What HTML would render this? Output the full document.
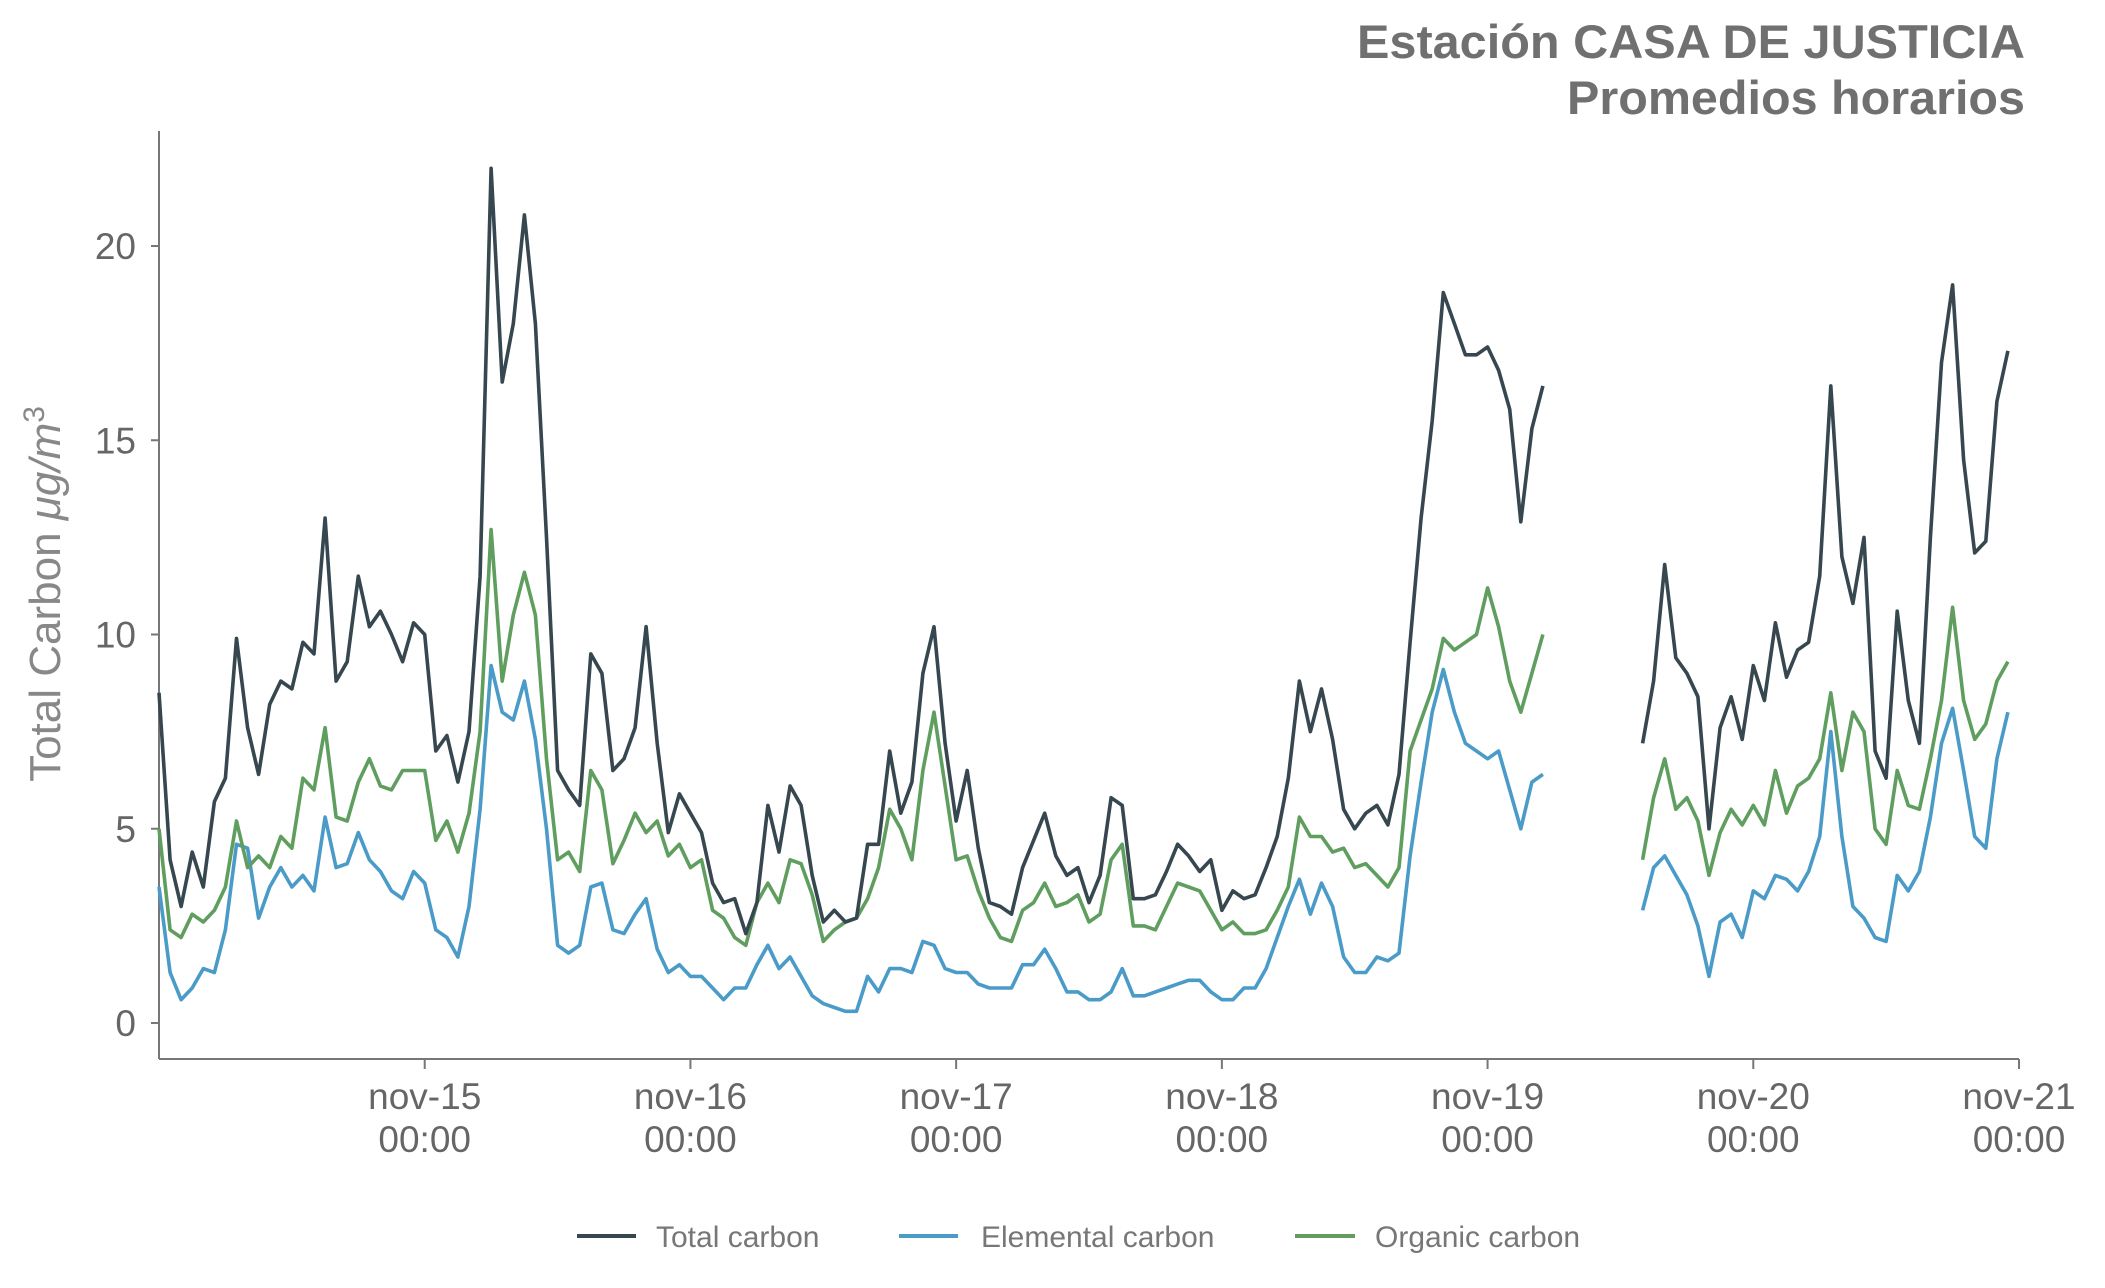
<!DOCTYPE html>
<html><head><meta charset="utf-8"><style>
html,body{margin:0;padding:0;background:#fff}
svg{display:block}
text{font-family:"Liberation Sans",sans-serif}
</style></head><body>
<svg id="chart" width="2105" height="1288" viewBox="0 0 2105 1288">
<text x="2025" y="58" text-anchor="end" font-size="47" font-weight="bold" fill="#707070" textLength="668" lengthAdjust="spacingAndGlyphs">Estación CASA DE JUSTICIA</text>
<text x="2025" y="114" text-anchor="end" font-size="47" font-weight="bold" fill="#707070" textLength="458" lengthAdjust="spacingAndGlyphs">Promedios horarios</text>
<g id="axes"></g>
<g id="series"></g>
<text transform="translate(60,594) rotate(-90)" text-anchor="middle" font-size="44" fill="#888">Total Carbon <tspan font-style="italic">μg/m</tspan><tspan dy="-16" font-size="30">3</tspan></text>
<g>
<g><line x1="577" y1="1236" x2="636" y2="1236" stroke="#36474f" stroke-width="4"/><text x="656" y="1247" font-size="30" fill="#777">Total carbon</text></g>
<g><line x1="899" y1="1236" x2="958" y2="1236" stroke="#4a9bc7" stroke-width="4"/><text x="981" y="1247" font-size="30" fill="#777">Elemental carbon</text></g>
<g><line x1="1295" y1="1236" x2="1355" y2="1236" stroke="#5f9e5f" stroke-width="4"/><text x="1375" y="1247" font-size="30" fill="#777">Organic carbon</text></g>
</g>
</svg>
<script>
const yTicks = [0, 5, 10, 15, 20];
const dayLabels = ["nov-15", "nov-16", "nov-17", "nov-18", "nov-19", "nov-20", "nov-21"];
const dayIndex = [1, 2, 3, 4, 5, 6, 7];
const N = null;
const totalCarbon = [
8.5,4.2,3.0,4.4,3.5,5.7,6.3,9.9,7.6,6.4,8.2,8.8,8.6,9.8,9.5,13.0,8.8,9.3,11.5,10.2,10.6,10.0,9.3,10.3,
10.0,7.0,7.4,6.2,7.5,11.5,22.0,16.5,18.0,20.8,18.0,12.5,6.5,6.0,5.6,9.5,9.0,6.5,6.8,7.6,10.2,7.2,4.9,5.9,
5.4,4.9,3.6,3.1,3.2,2.3,3.1,5.6,4.4,6.1,5.6,3.8,2.6,2.9,2.6,2.7,4.6,4.6,7.0,5.4,6.2,9.0,10.2,7.2,
5.2,6.5,4.5,3.1,3.0,2.8,4.0,4.7,5.4,4.3,3.8,4.0,3.1,3.8,5.8,5.6,3.2,3.2,3.3,3.9,4.6,4.3,3.9,4.2,
2.9,3.4,3.2,3.3,4.0,4.8,6.3,8.8,7.5,8.6,7.3,5.5,5.0,5.4,5.6,5.1,6.4,9.8,13.0,15.5,18.8,18.0,17.2,17.2,
17.4,16.8,15.8,12.9,15.3,16.4,N,N,N,N,N,N,N,N,7.2,8.8,11.8,9.4,9.0,8.4,5.0,7.6,8.4,7.3,
9.2,8.3,10.3,8.9,9.6,9.8,11.5,16.4,12.0,10.8,12.5,7.0,6.3,10.6,8.3,7.2,12.5,17.0,19.0,14.5,12.1,12.4,16.0,17.3];
const elementalCarbon = [
3.5,1.3,0.6,0.9,1.4,1.3,2.4,4.6,4.5,2.7,3.5,4.0,3.5,3.8,3.4,5.3,4.0,4.1,4.9,4.2,3.9,3.4,3.2,3.9,
3.6,2.4,2.2,1.7,3.0,5.5,9.2,8.0,7.8,8.8,7.3,5.0,2.0,1.8,2.0,3.5,3.6,2.4,2.3,2.8,3.2,1.9,1.3,1.5,
1.2,1.2,0.9,0.6,0.9,0.9,1.5,2.0,1.4,1.7,1.2,0.7,0.5,0.4,0.3,0.3,1.2,0.8,1.4,1.4,1.3,2.1,2.0,1.4,
1.3,1.3,1.0,0.9,0.9,0.9,1.5,1.5,1.9,1.4,0.8,0.8,0.6,0.6,0.8,1.4,0.7,0.7,0.8,0.9,1.0,1.1,1.1,0.8,
0.6,0.6,0.9,0.9,1.4,2.2,3.0,3.7,2.8,3.6,3.0,1.7,1.3,1.3,1.7,1.6,1.8,4.3,6.2,8.0,9.1,8.0,7.2,7.0,
6.8,7.0,6.0,5.0,6.2,6.4,N,N,N,N,N,N,N,N,2.9,4.0,4.3,3.8,3.3,2.5,1.2,2.6,2.8,2.2,
3.4,3.2,3.8,3.7,3.4,3.9,4.8,7.5,4.8,3.0,2.7,2.2,2.1,3.8,3.4,3.9,5.3,7.2,8.1,6.5,4.8,4.5,6.8,8.0];
const organicCarbon = [
5.0,2.4,2.2,2.8,2.6,2.9,3.5,5.2,4.0,4.3,4.0,4.8,4.5,6.3,6.0,7.6,5.3,5.2,6.2,6.8,6.1,6.0,6.5,6.5,
6.5,4.7,5.2,4.4,5.4,7.5,12.7,8.8,10.5,11.6,10.5,6.8,4.2,4.4,3.9,6.5,6.0,4.1,4.7,5.4,4.9,5.2,4.3,4.6,
4.0,4.2,2.9,2.7,2.2,2.0,3.1,3.6,3.1,4.2,4.1,3.3,2.1,2.4,2.6,2.7,3.2,4.0,5.5,5.0,4.2,6.5,8.0,6.1,
4.2,4.3,3.4,2.7,2.2,2.1,2.9,3.1,3.6,3.0,3.1,3.3,2.6,2.8,4.2,4.6,2.5,2.5,2.4,3.0,3.6,3.5,3.4,2.9,
2.4,2.6,2.3,2.3,2.4,2.9,3.5,5.3,4.8,4.8,4.4,4.5,4.0,4.1,3.8,3.5,4.0,7.0,7.8,8.6,9.9,9.6,9.8,10.0,
11.2,10.2,8.8,8.0,9.0,10.0,N,N,N,N,N,N,N,N,4.2,5.8,6.8,5.5,5.8,5.2,3.8,4.9,5.5,5.1,
5.6,5.1,6.5,5.4,6.1,6.3,6.8,8.5,6.5,8.0,7.5,5.0,4.6,6.5,5.6,5.5,6.8,8.3,10.7,8.3,7.3,7.7,8.8,9.3];

const X0 = 159, X1 = 2019, DAYS = 7, Y0 = 1023, KY = 38.85, AXIS_Y = 1059, TOP = 131;
const xScale = h => X0 + (X1 - X0) * h / (DAYS * 24);
const yScale = v => Y0 - KY * v;
const NS = "http://www.w3.org/2000/svg";
function mk(tag, attrs, parent) {
  const e = document.createElementNS(NS, tag);
  for (const k in attrs) e.setAttribute(k, attrs[k]);
  parent.appendChild(e);
  return e;
}
const axes = document.getElementById('axes');
const yAxis = mk('line', {x1: X0, y1: TOP, x2: X0, y2: AXIS_Y, stroke: '#777', 'stroke-width': 2}, axes);


const xAxis = mk('line', {x1: X0, y1: AXIS_Y, x2: X1, y2: AXIS_Y, stroke: '#777', 'stroke-width': 2}, axes);


yTicks.forEach(v => {
  const y = yScale(v);
  const t = mk('line', {x1: X0 - 8, y1: y, x2: X0, y2: y, stroke: '#777', 'stroke-width': 2}, axes);
  
  
  const l = mk('text', {x: 136, y: y + 13, 'text-anchor': 'end', 'font-size': 37, fill: '#666'}, axes);
  l.textContent = v;
  
  
});
dayLabels.forEach((lab, i) => {
  const x = xScale(dayIndex[i] * 24);
  const t = mk('line', {x1: x, y1: AXIS_Y, x2: x, y2: AXIS_Y + 10, stroke: '#777', 'stroke-width': 2}, axes);
  
  
  const l = mk('text', {x: x, y: 1109, 'text-anchor': 'middle', 'font-size': 37, fill: '#666'}, axes);
  l.textContent = lab;
  
  
  const l2 = mk('text', {x: x, y: 1152, 'text-anchor': 'middle', 'font-size': 37, fill: '#666'}, axes);
  l2.textContent = "00:00";
  
  
});
const seriesG = document.getElementById('series');
function drawSeries(vals, color, name) {
  let d = '', pen = false;
  vals.forEach((v, h) => {
    if (v === null) { pen = false; return; }
    d += (pen ? 'L' : 'M') + xScale(h).toFixed(1) + ',' + yScale(v).toFixed(1);
    pen = true;
  });
  const p = mk('path', {d: d, fill: 'none', stroke: color, 'stroke-width': 3.6, 'stroke-linejoin': 'round'}, seriesG);
  
  
}
drawSeries(elementalCarbon, '#4a9bc7', 'elemental-carbon-line');
drawSeries(organicCarbon, '#5f9e5f', 'organic-carbon-line');
drawSeries(totalCarbon, '#36474f', 'total-carbon-line');
</script>
</body></html>
